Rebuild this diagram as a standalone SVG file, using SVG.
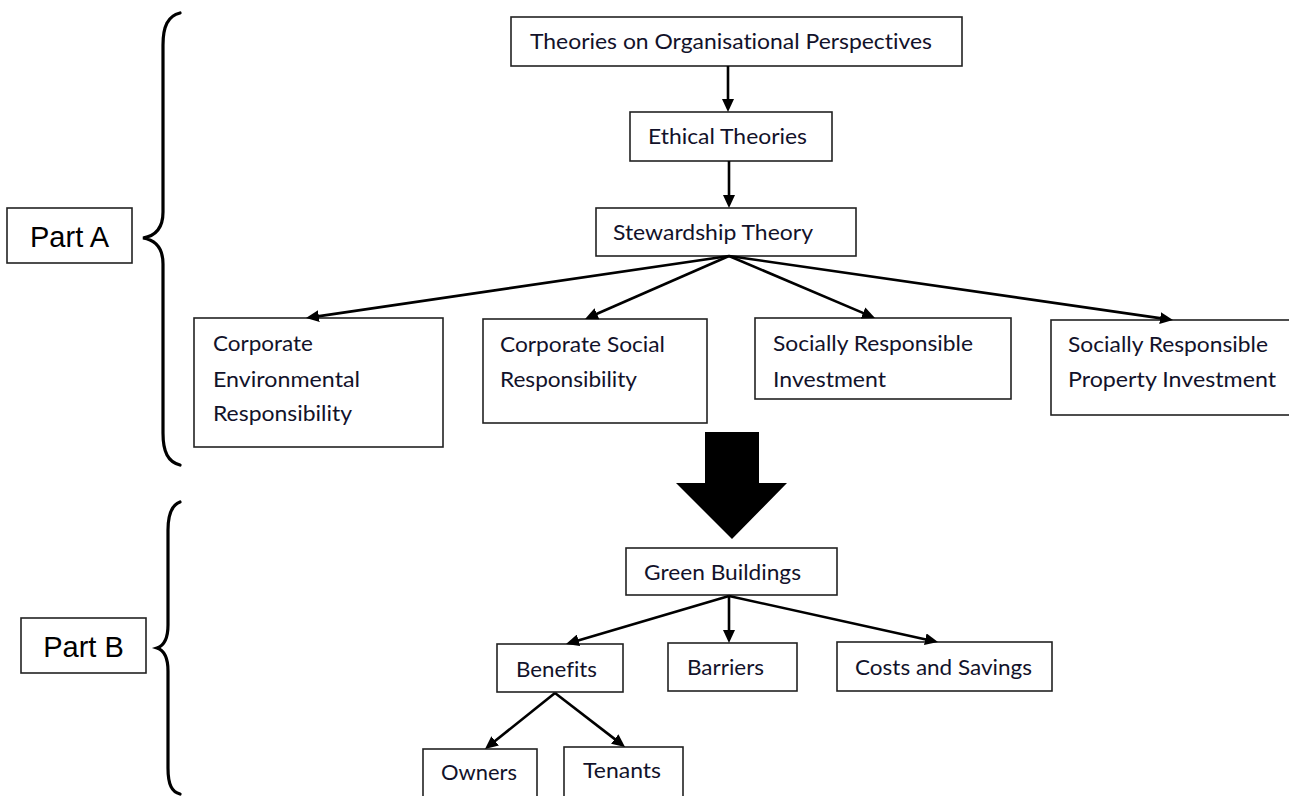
<svg xmlns="http://www.w3.org/2000/svg" width="1289" height="796" viewBox="0 0 1289 796">
  <defs>
    <marker id="head" markerUnits="userSpaceOnUse" markerWidth="13" markerHeight="12" refX="3" refY="6" orient="auto">
      <path d="M0,0 L13,6 L0,12 z" fill="#000"/>
    </marker>
    <style>
      .box { fill: #fff; stroke: #222; stroke-width: 1.6; }
      .lbl { font-family: Lato, "Open Sans", "Liberation Sans", sans-serif; font-size: 22px; fill: #12122a; font-variant-ligatures: none; }
      .part { font-family: "Liberation Sans", Arial, sans-serif; font-size: 29px; fill: #000; text-anchor: middle; }
      .brace { fill: none; stroke: #000; stroke-width: 3.2; stroke-linecap: round; }
      .link { fill: none; stroke: #000; stroke-width: 2.6; marker-end: url(#head); }
    </style>
  </defs>
  <rect width="1289" height="796" fill="#fff"/>

  <!-- section labels with braces -->
  <g id="partA">
    <rect class="box" x="7" y="208" width="125" height="55"/>
    <text class="part" x="69.5" y="247">Part A</text>
    <path class="brace" d="M180,13 C168,16 163,26 163,45 L163,212 C163,228 155,236 143,238 C155,240 163,248 163,264 L163,433 C163,452 168,462 180,465"/>
  </g>
  <g id="partB">
    <rect class="box" x="21" y="618" width="125" height="55"/>
    <text class="part" x="83.5" y="657">Part B</text>
    <path class="brace" d="M180,502 C172,505 168,513 168,530 L168,625 C168,640 163,646 157,648 C163,650 168,656 168,671 L168,768 C168,785 172,792 180,794"/>
  </g>

  <!-- Part A nodes -->
  <g id="theories">
    <rect class="box" x="511" y="17" width="451" height="49"/>
    <text class="lbl" x="530" y="49" textLength="402" lengthAdjust="spacingAndGlyphs">Theories on Organisational Perspectives</text>
  </g>
  <g id="ethical">
    <rect class="box" x="630" y="112" width="202" height="49"/>
    <text class="lbl" x="648" y="144" textLength="159" lengthAdjust="spacingAndGlyphs">Ethical Theories</text>
  </g>
  <g id="stewardship">
    <rect class="box" x="596" y="208" width="260" height="48"/>
    <text class="lbl" x="613" y="240" textLength="200" lengthAdjust="spacingAndGlyphs">Stewardship Theory</text>
  </g>
  <g id="cer">
    <rect class="box" x="194" y="318" width="249" height="129"/>
    <text class="lbl" x="213" y="351" textLength="100" lengthAdjust="spacingAndGlyphs">Corporate</text>
    <text class="lbl" x="213" y="387" textLength="147" lengthAdjust="spacingAndGlyphs">Environmental</text>
    <text class="lbl" x="213" y="421" textLength="139" lengthAdjust="spacingAndGlyphs">Responsibility</text>
  </g>
  <g id="csr">
    <rect class="box" x="483" y="319" width="224" height="104"/>
    <text class="lbl" x="500" y="352" textLength="165" lengthAdjust="spacingAndGlyphs">Corporate Social</text>
    <text class="lbl" x="500" y="387" textLength="137" lengthAdjust="spacingAndGlyphs">Responsibility</text>
  </g>
  <g id="sri">
    <rect class="box" x="755" y="318" width="256" height="81"/>
    <text class="lbl" x="773" y="351" textLength="200" lengthAdjust="spacingAndGlyphs">Socially Responsible</text>
    <text class="lbl" x="773" y="387" textLength="113" lengthAdjust="spacingAndGlyphs">Investment</text>
  </g>
  <g id="srpi">
    <rect class="box" x="1051" y="320" width="245" height="95"/>
    <text class="lbl" x="1068" y="352" textLength="200" lengthAdjust="spacingAndGlyphs">Socially Responsible</text>
    <text class="lbl" x="1068" y="387" textLength="208" lengthAdjust="spacingAndGlyphs">Property Investment</text>
  </g>

  <!-- transition from Part A to Part B -->
  <g id="transition">
    <polygon points="705,432 759,432 759,483 787,483 732,539 676,483 705,483" fill="#000"/>
  </g>

  <!-- Part B nodes -->
  <g id="green">
    <rect class="box" x="626" y="548" width="211" height="47"/>
    <text class="lbl" x="644" y="580" textLength="157" lengthAdjust="spacingAndGlyphs">Green Buildings</text>
  </g>
  <g id="benefits">
    <rect class="box" x="497" y="644" width="126" height="48"/>
    <text class="lbl" x="516" y="677" textLength="81" lengthAdjust="spacingAndGlyphs">Benefits</text>
  </g>
  <g id="barriers">
    <rect class="box" x="668" y="643" width="129" height="48"/>
    <text class="lbl" x="687" y="675" textLength="77" lengthAdjust="spacingAndGlyphs">Barriers</text>
  </g>
  <g id="costs">
    <rect class="box" x="837" y="642" width="215" height="49"/>
    <text class="lbl" x="855" y="675" textLength="177" lengthAdjust="spacingAndGlyphs">Costs and Savings</text>
  </g>
  <g id="owners">
    <rect class="box" x="423" y="749" width="114" height="49"/>
    <text class="lbl" x="441" y="780" textLength="76" lengthAdjust="spacingAndGlyphs">Owners</text>
  </g>
  <g id="tenants">
    <rect class="box" x="564" y="747" width="119" height="51"/>
    <text class="lbl" x="583" y="778" textLength="78" lengthAdjust="spacingAndGlyphs">Tenants</text>
  </g>

  <!-- connectors -->
  <g id="connectors">
    <line class="link" x1="728" y1="66" x2="728" y2="102"/>
    <line class="link" x1="729" y1="161" x2="729" y2="198"/>
    <line class="link" x1="729" y1="256" x2="315.9" y2="316.6"/>
    <line class="link" x1="729" y1="256" x2="594.2" y2="315.0"/>
    <line class="link" x1="729" y1="256" x2="865.8" y2="314.1"/>
    <line class="link" x1="729" y1="256" x2="1163.1" y2="318.6"/>
    <line class="link" x1="729" y1="596" x2="575.6" y2="641.2"/>
    <line class="link" x1="729" y1="596" x2="729" y2="633"/>
    <line class="link" x1="729" y1="596" x2="928.2" y2="639.9"/>
    <line class="link" x1="555" y1="693" x2="492.8" y2="742.8"/>
    <line class="link" x1="555" y1="693" x2="617.1" y2="740.9"/>
  </g>
</svg>
